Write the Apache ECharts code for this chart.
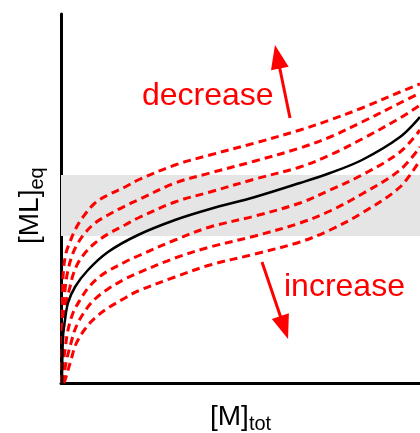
<!DOCTYPE html>
<html>
<head>
<meta charset="utf-8">
<script src="https://cdn.jsdelivr.net/npm/echarts@6/dist/echarts.min.js"></script>
<style>html,body{margin:0;padding:0;background:#fff}#c{width:420px;height:433px}</style>
</head>
<body>
<div id="c"></div>
<script>
// Data (arbitrary units: x 0..359, y 0..369)
const blackCurve = [[1,0],[2,46],[4,63],[7,80],[14,96],[27,113],[47,131],[77,148],[114,163],[149,174],[194,186],[239,200],[269,210],[301,223],[339,246],[359,266]];
const red1 = [[1,0],[1.5,83],[2.5,113],[5,130],[9,141],[14,153],[22,166],[34,180],[47,188],[64,196],[77,203],[114,218],[149,228],[194,240],[239,253],[269,263],[301,275],[339,291],[359,299]];
const red2 = [[1,0],[2,63],[4,93],[7,113],[12,130],[17,140],[24,150],[34,160],[47,168],[64,177],[77,183],[114,200],[149,210],[194,222],[239,235],[269,246],[301,261],[339,280],[359,290]];
const red3 = [[1,0],[1.5,38],[3,60],[5,80],[9,96],[12,108],[17,120],[24,130],[34,140],[47,149],[64,158],[77,165],[114,181],[149,191],[194,204],[239,216],[269,228],[301,244],[339,265],[359,278]];
const red4 = [[1,0],[2,18],[4,33],[7,53],[12,70],[19,83],[27,95],[37,105],[47,112],[64,121],[77,127],[114,143],[149,156],[194,167],[239,180],[269,193],[301,208],[339,231],[359,253]];
const red5 = [[2,0],[5,20],[10,40],[15,56],[24,72],[34,84],[47,94],[64,104],[77,110],[114,125],[149,136],[194,147],[239,160],[269,172],[301,189],[339,213],[359,236]];
const red6 = [[3,0],[5,6],[10,23],[15,39],[24,54],[34,65],[47,75],[64,85],[77,92],[114,106],[149,118],[194,129],[239,141],[269,153],[301,170],[339,196],[359,223]];
const redCurves = [red1, red2, red3, red4, red5, red6];
const bandRange = [147, 208];
const arrowUp = [[229,265],[216.4,326.2]];
const arrowDown = [[201,121],[223.2,55.4]];
const xRange = [0, 359];
const yRange = [0, 369];
const labelDecrease = 'decrease';
const labelIncrease = 'increase';
const xName = ['[M]', 'tot'];
const yName = ['[ML]', 'eq'];

const RED = '#ff0000';
const FONT = '"Liberation Sans", Arial, sans-serif';
const mctx = document.createElement('canvas').getContext('2d');
function tw(t, size) { mctx.font = size + 'px ' + FONT; return mctx.measureText(t).width; }
const MAIN = 28, SUB = 20;
function mid(size) { return 0.3465 * size; }

const chart = echarts.init(document.getElementById('c'), null, {renderer: 'canvas'});

const series = [{
  type: 'line', data: [], z: 1, silent: true,
  markArea: {silent: true, itemStyle: {color: '#e5e5e5'}, data: [[{yAxis: bandRange[0]}, {yAxis: bandRange[1]}]]}
}];
redCurves.forEach(function (d) {
  series.push({
    type: 'line', data: d, showSymbol: false, smooth: 0.35, z: 3, silent: true,
    lineStyle: {color: RED, width: 3, type: [8, 5], cap: 'butt'}
  });
});
series.push({
  type: 'line', data: blackCurve, showSymbol: false, smooth: 0.35, z: 4, silent: true,
  lineStyle: {color: '#000', width: 2.5},
  markLine: {
    silent: true, animation: false, symbol: ['none', 'triangle'], symbolSize: [18, 24],
    label: {show: false}, lineStyle: {color: RED, width: 3, type: 'solid'},
    emphasis: {disabled: true},
    data: [
      [{coord: arrowUp[0]}, {coord: arrowUp[1]}],
      [{coord: arrowDown[0]}, {coord: arrowDown[1]}]
    ]
  }
});

const xw = tw(xName[0], MAIN);
const yw = tw(yName[0], MAIN);

chart.setOption({
  animation: false,
  grid: {left: 61, right: 0, top: 14, bottom: 50},
  xAxis: {type: 'value', min: xRange[0], max: xRange[1], axisLine: {lineStyle: {color: '#000', width: 3}}, axisTick: {show: false}, axisLabel: {show: false}, splitLine: {show: false}},
  yAxis: {type: 'value', min: yRange[0], max: yRange[1], axisLine: {show: true, lineStyle: {color: '#000', width: 3}}, axisTick: {show: false}, axisLabel: {show: false}, splitLine: {show: false}},
  series: series,
  graphic: [
    {type: 'text', x: 142, y: 107 - mid(32), silent: true, style: {text: labelDecrease, font: '32px ' + FONT, fill: RED, align: 'left', verticalAlign: 'middle'}},
    {type: 'text', x: 284, y: 298 - mid(32), silent: true, style: {text: labelIncrease, font: '32px ' + FONT, fill: RED, align: 'left', verticalAlign: 'middle'}},
    {type: 'group', x: 0, y: 0, silent: true, children: [
      {type: 'text', x: 210, y: 427 - mid(MAIN), style: {text: xName[0], font: MAIN + 'px ' + FONT, fill: '#000', align: 'left', verticalAlign: 'middle'}},
      {type: 'text', x: 210 + xw, y: 431 - mid(SUB), style: {text: xName[1], font: SUB + 'px ' + FONT, fill: '#000', align: 'left', verticalAlign: 'middle'}}
    ]},
    {type: 'group', x: 40, y: 244, rotation: Math.PI / 2, silent: true, children: [
      {type: 'text', x: 0, y: -mid(MAIN), style: {text: yName[0], font: MAIN + 'px ' + FONT, fill: '#000', align: 'left', verticalAlign: 'middle'}},
      {type: 'text', x: yw, y: 4 - mid(SUB), style: {text: yName[1], font: SUB + 'px ' + FONT, fill: '#000', align: 'left', verticalAlign: 'middle'}}
    ]}
  ]
});
</script>
</body>
</html>
